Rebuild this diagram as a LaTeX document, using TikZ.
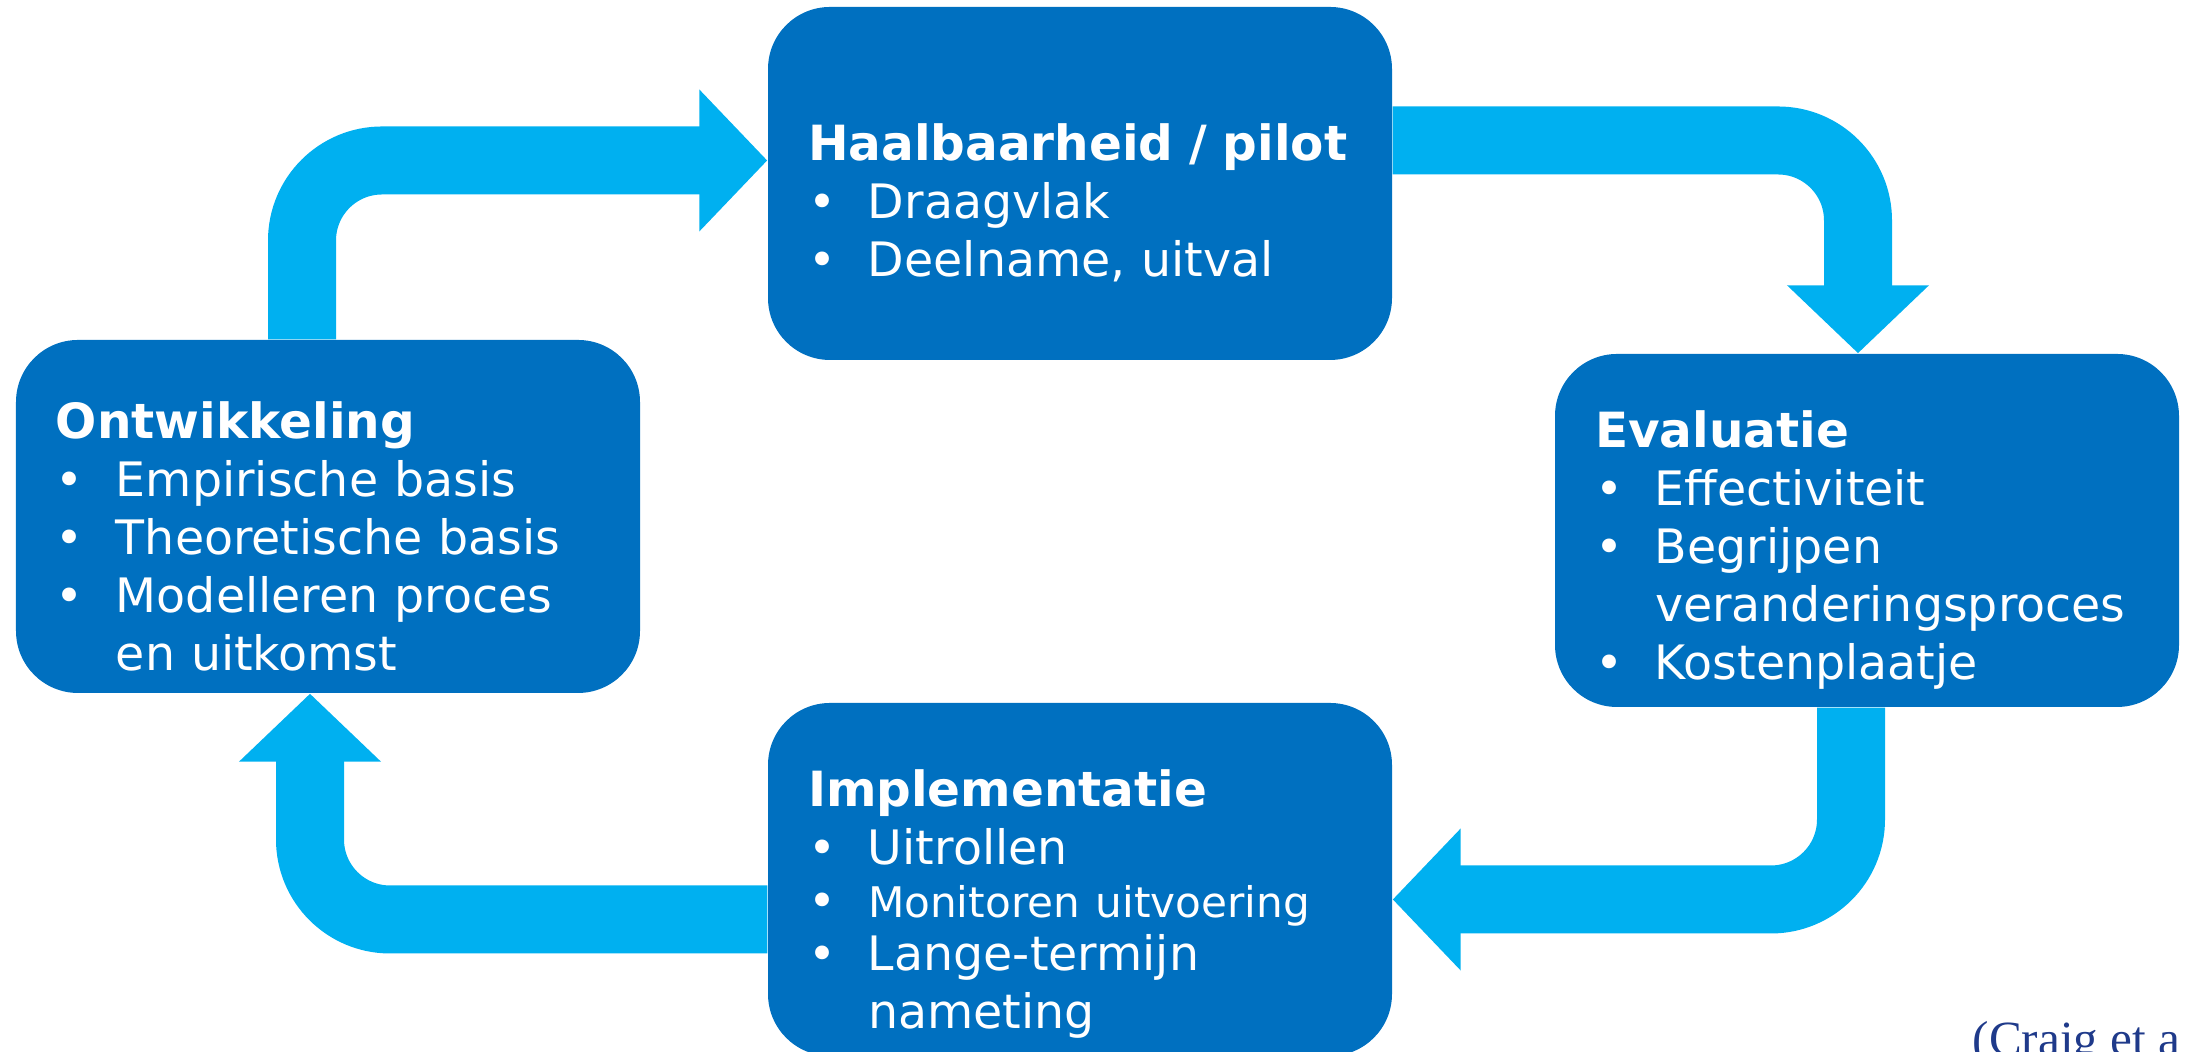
\documentclass[tikz,border=0pt]{standalone}
\usepackage{fontspec}
\setmainfont{DejaVu Sans}
\newfontfamily\citefont{Liberation Serif}
\usetikzlibrary{arrows.meta}

\definecolor{boxblue}{HTML}{0070C0}
\definecolor{arrowblue}{HTML}{00B0F0}
\definecolor{citeblue}{HTML}{1F3A8A}

\newcommand{\bul}{\makebox[0.6cm][l]{\textbullet}}
\newcommand{\hd}[2][0.76cm]{\rule{0pt}{#1}{\fontsize{13.8}{16.5}\selectfont\textbf{#2}}}

\begin{document}
\begin{tikzpicture}[
    stage/.style={rounded corners=0.62cm, fill=boxblue, text=white,
                  minimum width=6.24cm, minimum height=3.53cm,
                  text width=5.44cm, inner xsep=0.4cm, align=left,
                  font=\fontsize{13.5}{16.5}\selectfont},
    flow/.style={draw=arrowblue, line width=0.68cm, rounded corners=0.8cm,
                 -{Triangle[length=0.68cm,width=1.38cm]}},
    source/.style={text=citeblue, font=\citefont\fontsize{14}{16}\selectfont}
  ]
  \useasboundingbox (0,0) rectangle (21.87,10.52);

  \node[stage] (pilot) at (10.80,8.685) {\hd{Haalbaarheid / pilot}\\
    \bul Draagvlak\\
    \bul Deelname, uitval};
  \node[stage] (ontw) at (3.28,5.355) {\hd{Ontwikkeling}\\
    \bul Empirische basis\\
    \bul Theoretische basis\\
    \bul Modelleren proces\\
    \hspace*{0.6cm}en uitkomst};
  \node[stage] (eval) at (18.67,5.215) {\hd{Evaluatie}\\
    \bul Effectiviteit\\
    \bul Begrijpen\\
    \hspace*{0.6cm}veranderingsproces\\
    \bul Kostenplaatje};
  \node[stage] (impl) at (10.80,1.725) {\fontsize{13.5}{15}\selectfont
    \hd[0.86cm]{Implementatie}\\[0.05cm]
    \bul Uitrollen\\
    \bul{\fontsize{12}{15}\selectfont Monitoren uitvoering}\\
    \bul Lange-termijn\\
    \hspace*{0.6cm}nameting};

  \draw[flow] ([xshift=-0.26cm]ontw.north) |- ([yshift=0.23cm]pilot.west);
  \draw[flow] ([yshift=0.43cm]pilot.east) -| ([xshift=-0.09cm]eval.north);
  \draw[flow] ([xshift=-0.16cm]eval.south) |- ([yshift=-0.2cm]impl.east);
  \draw[flow] ([yshift=-0.4cm]impl.west) -| ([xshift=-0.18cm]ontw.south);

  \node[source, anchor=base west, inner sep=0pt] (src) at (19.72,-0.04) {(Craig et a};
\end{tikzpicture}
\end{document}
